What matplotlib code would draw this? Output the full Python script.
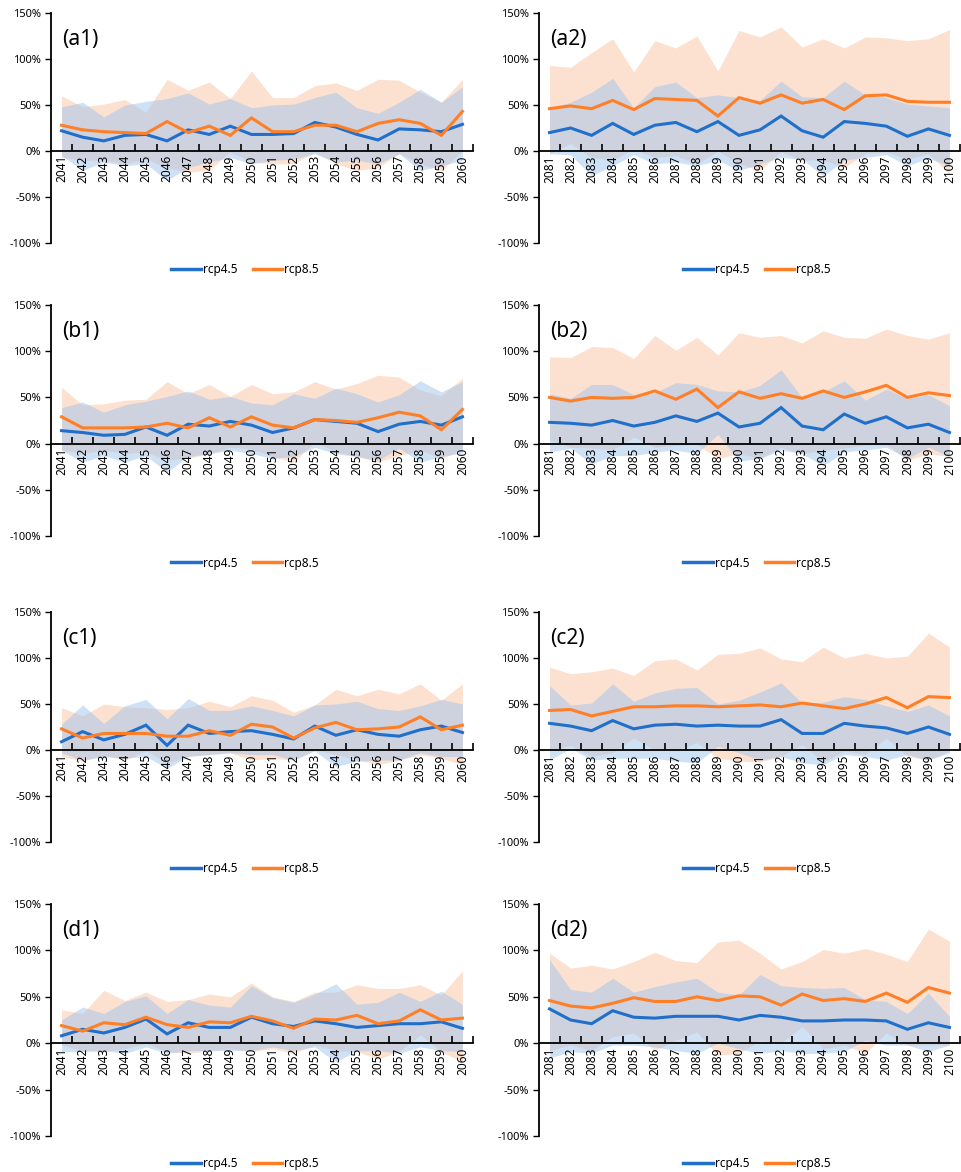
import matplotlib
matplotlib.use("Agg")
import matplotlib.pyplot as plt
from matplotlib.ticker import FixedLocator, FuncFormatter
from matplotlib.lines import Line2D

plt.rcParams['font.family'] = ['Noto Sans', 'DejaVu Sans']

years_mid = ["2041", "2042", "2043", "2044", "2045", "2046", "2047", "2048", "2049", "2050",
             "2051", "2052", "2053", "2054", "2055", "2056", "2057", "2058", "2059", "2060"]
years_end = ["2081", "2082", "2083", "2084", "2085", "2086", "2087", "2088", "2089", "2090",
             "2091", "2092", "2093", "2094", "2095", "2096", "2097", "2098", "2099", "2100"]

# ---- (a1) ----
a1_45_mean = [22, 15, 11, 17, 18, 11, 23, 18, 27, 18, 18, 19, 31, 26, 18, 12, 24, 23, 21, 29]
a1_45_high = [48, 53, 37, 50, 54, 57, 63, 51, 57, 47, 50, 51, 58, 64, 47, 41, 53, 67, 53, 70]
a1_45_low = [-5, -21, -12, -16, -14, -32, -18, -12, -7, -14, -10, -9, -3, -12, -10, -14, -3, -21, -16, -10]
a1_85_mean = [28, 23, 21, 20, 19, 32, 20, 27, 17, 36, 21, 21, 28, 28, 21, 30, 34, 30, 17, 43]
a1_85_high = [60, 48, 51, 56, 42, 78, 66, 75, 57, 87, 58, 58, 71, 74, 66, 78, 77, 64, 53, 78]
a1_85_low = [-7, -10, -10, -14, -9, -18, -23, -21, -1, -12, -14, -14, -1, -14, -21, -18, -3, -14, -21, 0]

# ---- (a2) ----
a2_45_mean = [20, 25, 17, 30, 18, 28, 31, 21, 32, 17, 23, 38, 22, 15, 32, 30, 27, 16, 24, 17]
a2_45_high = [47, 53, 64, 79, 47, 70, 75, 58, 61, 58, 55, 76, 59, 58, 76, 61, 58, 51, 49, 47]
a2_45_low = [-3, -4, -27, -16, -4, -14, -12, -16, -10, -21, -14, -7, -9, -27, -10, -7, -4, -16, -8, -16]
a2_85_mean = [46, 49, 46, 55, 45, 57, 56, 55, 38, 58, 52, 61, 52, 56, 45, 60, 61, 54, 53, 53]
a2_85_high = [93, 91, 107, 122, 86, 120, 112, 125, 87, 131, 124, 135, 113, 122, 112, 124, 123, 120, 122, 132]
a2_85_low = [-3, 8, -7, -10, 2, -7, -5, -14, 0, -14, -21, -1, -10, -10, -18, -3, -1, -9, -3, -25]

# ---- (b1) ----
b1_45_mean = [14, 12, 9, 10, 18, 9, 21, 19, 24, 20, 12, 17, 26, 24, 22, 13, 21, 24, 20, 29]
b1_45_high = [39, 45, 34, 42, 46, 51, 57, 48, 51, 44, 42, 54, 49, 60, 54, 45, 53, 68, 56, 67]
b1_45_low = [-7, -20, -13, -20, -13, -31, -14, -11, -7, -11, -16, -14, -4, -11, -14, -18, -5, -20, -14, -10]
b1_85_mean = [29, 17, 17, 17, 18, 22, 17, 28, 18, 29, 20, 17, 26, 25, 23, 28, 34, 30, 15, 37]
b1_85_high = [61, 42, 43, 47, 48, 67, 54, 64, 51, 64, 54, 56, 67, 59, 65, 74, 72, 58, 52, 71]
b1_85_low = [-7, -11, -7, -11, -9, -18, -16, -11, -4, -6, -14, -20, 2, -9, -14, -20, -13, -7, -16, -7]

# ---- (b2) ----
b2_45_mean = [23, 22, 20, 25, 19, 23, 30, 24, 33, 18, 22, 39, 19, 15, 32, 22, 29, 17, 21, 12]
b2_45_high = [54, 49, 64, 64, 53, 55, 66, 64, 57, 56, 63, 80, 50, 56, 68, 47, 59, 49, 53, 41]
b2_45_low = [-9, -5, -22, -13, -13, -9, -7, -11, 10, -19, -16, -7, -11, -24, -9, -7, -4, -16, -4, -14]
b2_85_mean = [50, 46, 50, 49, 50, 57, 48, 59, 39, 56, 49, 54, 49, 57, 50, 56, 63, 50, 55, 52]
b2_85_high = [94, 93, 105, 104, 92, 117, 101, 115, 96, 120, 115, 117, 109, 122, 115, 114, 124, 117, 113, 120]
b2_85_low = [4, -4, -5, -7, 7, -4, -2, -1, -16, -11, -16, -4, -11, -7, -5, -2, -1, -18, -11, -14]

# ---- (c1) ----
c1_45_mean = [9, 20, 11, 17, 27, 5, 27, 18, 20, 21, 17, 12, 26, 16, 22, 17, 15, 22, 26, 19]
c1_45_high = [28, 49, 29, 48, 55, 34, 56, 43, 43, 48, 43, 37, 49, 50, 53, 45, 43, 48, 55, 50]
c1_45_low = [-3, -11, -7, -9, -7, -20, -7, -5, -3, -5, -5, -11, -1, -18, -12, -11, -11, -3, -7, -7]
c1_85_mean = [23, 13, 18, 18, 18, 15, 15, 21, 16, 28, 25, 13, 24, 30, 22, 23, 25, 36, 22, 27]
c1_85_high = [46, 37, 50, 47, 46, 44, 46, 53, 47, 59, 54, 41, 49, 66, 59, 66, 61, 72, 54, 72]
c1_85_low = [-7, -12, -6, -11, -1, -14, -7, -5, -3, -11, -9, -11, 0, -5, -11, -16, -11, -5, -9, -16]

# ---- (c2) ----
c2_45_mean = [29, 26, 21, 32, 23, 27, 28, 26, 27, 26, 26, 33, 18, 18, 29, 26, 24, 18, 25, 17]
c2_45_high = [70, 49, 51, 72, 53, 62, 67, 68, 50, 54, 63, 73, 51, 52, 58, 55, 48, 42, 49, 37]
c2_45_low = [-11, 2, -11, -9, -9, -9, -12, -14, 4, -3, -11, -7, -14, -16, -5, -7, -11, -5, -11, -3]
c2_85_mean = [43, 44, 37, 42, 47, 47, 48, 48, 47, 48, 49, 47, 51, 48, 45, 50, 57, 46, 58, 57]
c2_85_high = [90, 83, 85, 89, 81, 97, 99, 87, 104, 105, 111, 99, 96, 112, 100, 105, 100, 102, 127, 112]
c2_85_low = [-1, 5, -7, -3, 13, 0, -1, 8, -9, -12, -13, -7, 6, -13, -1, -5, 13, -7, -11, -1]

# ---- (d1) ----
d1_45_mean = [8, 15, 11, 17, 26, 10, 22, 17, 17, 28, 21, 18, 24, 21, 17, 19, 21, 21, 23, 16]
d1_45_high = [25, 39, 32, 45, 51, 32, 47, 41, 39, 62, 49, 44, 53, 64, 42, 44, 55, 45, 56, 42]
d1_45_low = [-9, -9, -8, -11, -4, -11, -8, -8, -8, -8, -4, -8, -4, -20, -8, -8, -11, -4, -8, -9]
d1_85_mean = [19, 13, 22, 20, 28, 20, 17, 23, 22, 29, 24, 16, 26, 25, 30, 21, 24, 36, 25, 27]
d1_85_high = [36, 32, 57, 46, 55, 45, 47, 53, 50, 65, 50, 45, 55, 55, 63, 59, 59, 63, 52, 78]
d1_85_low = [-2, -8, -9, -6, 0, -9, -11, -8, -6, -9, -6, -11, -2, -8, -9, -17, -9, 9, -9, -20]

# ---- (d2) ----
d2_45_mean = [37, 25, 21, 35, 28, 27, 29, 29, 29, 25, 30, 28, 24, 24, 25, 25, 24, 15, 22, 17]
d2_45_high = [90, 58, 55, 70, 55, 61, 66, 70, 55, 52, 74, 62, 60, 59, 60, 47, 45, 32, 54, 29]
d2_45_low = [-16, -9, -11, -2, -2, -4, -8, -11, 0, -6, -11, -8, -11, -11, -9, 3, -2, -2, -9, -2]
d2_85_mean = [46, 40, 38, 43, 49, 45, 45, 50, 46, 51, 50, 41, 53, 46, 48, 45, 54, 44, 60, 54]
d2_85_high = [97, 81, 84, 80, 88, 98, 89, 87, 109, 111, 97, 80, 88, 101, 97, 102, 96, 88, 123, 110]
d2_85_low = [-8, -2, -8, 7, 11, -8, 3, 12, -13, -11, 3, 0, 18, -6, -2, -11, 11, -2, -2, -2]

panel_labels = ["(a1)", "(a2)", "(b1)", "(b2)", "(c1)", "(c2)", "(d1)", "(d2)"]
series_names = ["rcp4.5", "rcp8.5"]

panels = [
    (years_mid, a1_45_mean, a1_45_low, a1_45_high, a1_85_mean, a1_85_low, a1_85_high),
    (years_end, a2_45_mean, a2_45_low, a2_45_high, a2_85_mean, a2_85_low, a2_85_high),
    (years_mid, b1_45_mean, b1_45_low, b1_45_high, b1_85_mean, b1_85_low, b1_85_high),
    (years_end, b2_45_mean, b2_45_low, b2_45_high, b2_85_mean, b2_85_low, b2_85_high),
    (years_mid, c1_45_mean, c1_45_low, c1_45_high, c1_85_mean, c1_85_low, c1_85_high),
    (years_end, c2_45_mean, c2_45_low, c2_45_high, c2_85_mean, c2_85_low, c2_85_high),
    (years_mid, d1_45_mean, d1_45_low, d1_45_high, d1_85_mean, d1_85_low, d1_85_high),
    (years_end, d2_45_mean, d2_45_low, d2_45_high, d2_85_mean, d2_85_low, d2_85_high),
]

BLUE = "#1f6fcb"
ORANGE = "#ff7f27"
BLUE_FILL = "#a1c5eb"
ORANGE_FILL = "#f8b68c"

W, H = 961, 1172
fig = plt.figure(figsize=(W / 100, H / 100), dpi=100)

col_x = [(51, 473), (539, 960)]
row_y = [(13, 243), (305, 536), (612, 842), (904, 1136)]

for i, (cats, m45, l45, h45, m85, l85, h85) in enumerate(panels):
    r, c = divmod(i, 2)
    x0, x1 = col_x[c]
    yt, yb = row_y[r]
    ax = fig.add_axes([x0 / W, 1 - yb / H, (x1 - x0) / W, (yb - yt) / H])
    xs = list(range(len(cats)))

    ax.fill_between(xs, l85, h85, color=ORANGE_FILL, alpha=0.4, linewidth=0, zorder=1)
    ax.fill_between(xs, l45, h45, color=BLUE_FILL, alpha=0.5, linewidth=0, zorder=2)
    ax.plot(xs, m45, color=BLUE, linewidth=2.2, zorder=4, solid_joinstyle='miter')
    ax.plot(xs, m85, color=ORANGE, linewidth=2.2, zorder=5, solid_joinstyle='miter')

    ax.set_xlim(-0.5, len(cats) - 0.5)
    ax.set_ylim(-100, 150)

    for s in ("top", "right"):
        ax.spines[s].set_visible(False)
    ax.spines["bottom"].set_position(("data", 0))
    ax.spines["bottom"].set_linewidth(1.3)
    ax.spines["left"].set_linewidth(1.3)
    ax.spines["bottom"].set_zorder(6)
    ax.xaxis.set_zorder(6)
    ax.yaxis.set_zorder(6)

    ax.set_yticks([-100, -50, 0, 50, 100, 150])
    ax.yaxis.set_major_formatter(FuncFormatter(lambda v, p: f"{int(v)}%"))
    ax.tick_params(axis="y", direction="out", length=4, width=1, labelsize=8, pad=3)

    ax.set_xticks(xs)
    ax.set_xticklabels(cats, rotation=90, fontsize=8.5)
    ax.tick_params(axis="x", which="major", length=0, pad=3)
    ax.xaxis.set_minor_locator(FixedLocator([k + 0.5 for k in range(len(cats))]))
    ax.tick_params(axis="x", which="minor", direction="in", length=5, width=1.2)

    ax.text(0.027, 0.93, panel_labels[i], transform=ax.transAxes, fontsize=15,
            va="top", ha="left")

    handles = [Line2D([], [], color=BLUE, linewidth=2.5),
               Line2D([], [], color=ORANGE, linewidth=2.5)]
    leg_cx = ((245 - 51) if c == 0 else (245 - 51 + 24)) / (x1 - x0)
    ax.legend(handles, series_names, loc="center", bbox_to_anchor=(leg_cx, -0.117),
              ncol=2, frameon=False, fontsize=8.5, handlelength=2.5,
              handletextpad=0.15, columnspacing=1.3)

fig.savefig("out.png", dpi=100)
